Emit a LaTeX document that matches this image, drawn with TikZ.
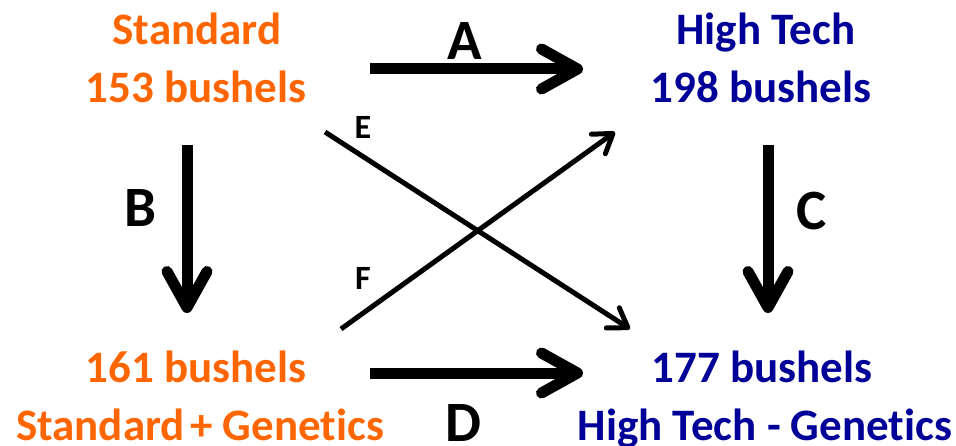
\documentclass[tikz,border=0pt]{standalone}
\usepackage{fontspec}
\setmainfont{Carlito}[Ligatures={NoCommon}]
\usetikzlibrary{arrows.meta}
\definecolor{orng}{RGB}{255,102,0}
\definecolor{navy}{RGB}{0,0,153}
\begin{document}
\begin{tikzpicture}[x=1pt,y=-1pt,
  txt/.style={font=\fontsize{45}{54}\selectfont\bfseries, anchor=base, inner sep=0pt},
  lbl/.style={font=\fontsize{57}{60}\selectfont\bfseries, inner sep=0pt},
  sml/.style={font=\fontsize{34}{40}\selectfont\bfseries, inner sep=0pt},
  bigarrow/.style={line width=11pt, -{Straight Barb[length=36pt,width=40pt,round]}},
  thinarrow/.style={line width=5pt, -{Straight Barb[length=18pt,width=24pt,round]}}]
\useasboundingbox[fill=white] (0,0) rectangle (956,446);
% texts
\node[txt, text=orng] (s1) at (197,45) {Standard};
\node[txt, text=orng] (s2) at (196,103) {153 bushels};
\node[txt, text=navy] (h1) at (766,45) {High Tech};
\node[txt, text=navy] (h2) at (761,103) {198 bushels};
\node[txt, text=orng] (g1) at (196,382) {161 bushels};
\node[txt, text=orng] (g2) at (200,440) {Standard\hspace{0.12em}+ Genetics};
\node[txt, text=navy] (t1) at (762,382) {177 bushels};
\node[txt, text=navy] (t2) at (765,440) {High Tech - Genetics};
% labels
\node[lbl] (la) at (465,41) {A};
\node[lbl] (lb) at (140,208) {B};
\node[lbl] (lc) at (812,211) {C};
\node[lbl] (ld) at (463,423) {D};
\node[sml] (le) at (363,127) {E};
\node[sml] (lf) at (363,278) {F};
% arrow ends
\coordinate (a0) at (370,69);  \coordinate (a1) at (583,69);
\coordinate (d0) at (370,373); \coordinate (d1) at (583,373);
\coordinate (b0) at (187,145); \coordinate (b1) at (187,313);
\coordinate (c0) at (768,145); \coordinate (c1) at (768,313);
\coordinate (e0) at (325,132); \coordinate (e1) at (630,329);
\coordinate (f0) at (341,329); \coordinate (f1) at (615,132);
\draw[bigarrow] (a0) -- (a1);
\draw[bigarrow] (d0) -- (d1);
\draw[bigarrow] (b0) -- (b1);
\draw[bigarrow] (c0) -- (c1);
\draw[thinarrow] (e0) -- (e1);
\draw[thinarrow] (f0) -- (f1);
\end{tikzpicture}
\end{document}
